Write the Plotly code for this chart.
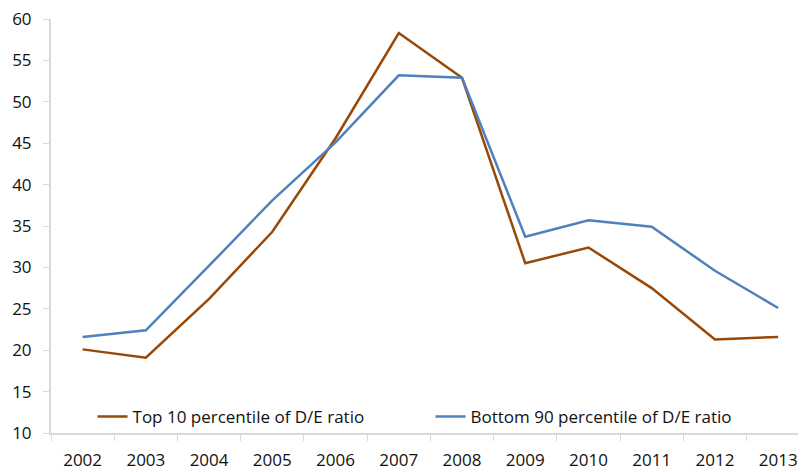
import plotly.graph_objects as go

years = ["2002", "2003", "2004", "2005", "2006", "2007", "2008", "2009", "2010", "2011", "2012", "2013"]
top10 = [20.1, 19.1, 26.2, 34.3, 45.6, 58.3, 52.9, 30.5, 32.4, 27.5, 21.3, 21.6]
bottom90 = [21.6, 22.4, 30.2, 38.1, 45.1, 53.2, 52.9, 33.7, 35.7, 34.9, 29.6, 25.1]

fig = go.Figure()
fig.add_trace(go.Scatter(x=years, y=top10, mode="lines", name="Top 10 percentile of D/E ratio",
                         line=dict(color="#984807", width=2.5)))
fig.add_trace(go.Scatter(x=years, y=bottom90, mode="lines", name="Bottom 90 percentile of D/E ratio",
                         line=dict(color="#4F81BD", width=2.5)))

axis_line = "#D9D9D9"
# Note the page body has an 8px margin, so the figure is a bit smaller than the window
fig.update_layout(
    width=798, height=464,
    margin=dict(l=43, r=0, t=11, b=39),
    paper_bgcolor="white", plot_bgcolor="white",
    font=dict(family="Open Sans", size=17, color="#111111"),
    showlegend=True,
    legend=dict(orientation="h", x=0.055, y=-0.005, xanchor="left", yanchor="bottom",
                bgcolor="rgba(0,0,0,0)", font=dict(size=17),
                entrywidth=293, entrywidthmode="pixels", tracegroupgap=0),
    xaxis=dict(type="category", range=[-0.5, 11.44], showgrid=False, showline=True,
               linecolor=axis_line, linewidth=2, ticks="outside", tickson="boundaries",
               ticklen=6, tickcolor=axis_line, tickwidth=1, automargin=False,
               ticklabelstandoff=11, ticklabeloverflow="allow"),
    yaxis=dict(range=[10, 60], dtick=5, showgrid=False, showline=True, zeroline=False,
               linecolor=axis_line, linewidth=2, ticks="outside", ticklen=6,
               tickcolor=axis_line, tickwidth=1, automargin=False,
               ticklabelstandoff=8, ticklabeloverflow="allow"),
)

fig.write_html("out.html")
